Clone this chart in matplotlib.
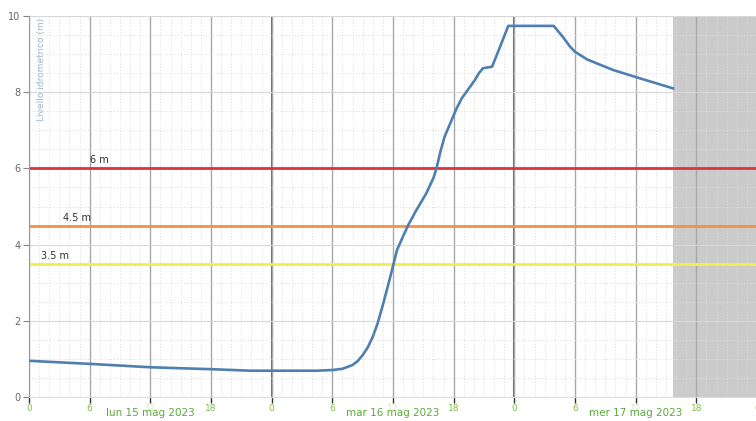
import numpy as np
import matplotlib.pyplot as pl
from matplotlib.ticker import MultipleLocator

# hours since lun 15 mag 2023 00:00 and water level (m)
hours = [0, 6, 12, 18, 21.9, 23.8, 28.5, 30.1, 31.0, 32.0, 32.5, 33.0, 33.5, 34.0, 34.5,
         35.0, 35.5, 35.9, 36.4, 37.0, 37.5, 38.3, 39.3, 40.0, 40.3, 40.7, 41.1, 41.8,
         42.3, 42.8, 43.4, 44.1, 44.5, 44.9, 45.8, 46.6, 47.4, 51.9,
         52.8, 53.5, 54.0, 55.2, 56.5, 57.8, 60.1, 63.7]
level = [0.95, 0.87, 0.78, 0.73, 0.69, 0.69, 0.69, 0.71, 0.74, 0.84, 0.94, 1.10, 1.30, 1.58, 1.95,
         2.42, 2.92, 3.33, 3.86, 4.22, 4.51, 4.90, 5.35, 5.75, 6.00, 6.45, 6.83, 7.27,
         7.58, 7.84, 8.06, 8.32, 8.50, 8.63, 8.67, 9.20, 9.74, 9.74,
         9.45, 9.20, 9.06, 8.86, 8.72, 8.58, 8.39, 8.10]

# alert thresholds
thresholds = [6, 4.5, 3.5]
threshold_labels = ['6 m', '4.5 m', '3.5 m']
threshold_colors = ['#e0313f', '#f5913f', '#f2ef4a']
label_hours = [7.0, 4.7, 2.6]

# forecast / no-data zone
shade_start = 63.7
shade_end = 72

days = ['lun 15 mag 2023', 'mar 16 mag 2023', 'mer 17 mag 2023']
tick_hours = np.arange(0, 73, 6)
tick_labels = [str(h % 24) for h in tick_hours]

f = pl.figure(figsize=(7.56, 4.21), dpi=100)
ax = f.add_axes([29/756, 1-397/421, 728/756, 381/421])

ax.axvspan(shade_start, shade_end, color='#cbcbcb', zorder=0.2, lw=0)

# grid
ax.set_xlim(0, 72)
ax.set_ylim(0, 10)
ax.xaxis.set_major_locator(MultipleLocator(6))
ax.xaxis.set_minor_locator(MultipleLocator(1))
ax.yaxis.set_major_locator(MultipleLocator(2))
ax.yaxis.set_minor_locator(MultipleLocator(0.5))
ax.grid(which='major', axis='x', color='#a8a8a8', lw=1.0)
ax.grid(which='major', axis='y', color='#d8d8d8', lw=0.8)
ax.grid(which='minor', color='#dcdcdc', lw=0.7, ls=(0, (1, 2)))
for d in [24, 48]:
    ax.axvline(d, color='#6a6a6a', lw=1.5, zorder=0.6)

for t, lab, c, lh in zip(thresholds, threshold_labels, threshold_colors, label_hours):
    ax.axhline(t, color=c, lw=2, zorder=2)
    ax.text(lh, t + 0.08, lab, fontsize=7, color='#333333', ha='center', va='bottom', zorder=3)

ax.plot(hours, level, '-', color='#4f7fb0', lw=1.9, zorder=4)

ax.set_xticks(tick_hours)
ax.set_xticklabels(tick_labels)
ax.tick_params(axis='x', which='major', colors='#333333', labelcolor='#7cbf4a', labelsize=6.5,
               length=4, width=1, pad=1)
ax.tick_params(axis='x', which='minor', length=0)
ax.tick_params(axis='y', which='major', colors='#888888', labelcolor='#666666', labelsize=7,
               length=4, pad=2)
ax.tick_params(axis='y', which='minor', length=0)
# the "12" labels sit faintly behind the date labels
for lbl, h in zip(ax.get_xticklabels(), tick_hours):
    if h % 24 == 12:
        lbl.set_alpha(0.35)

for i, d in enumerate(days):
    ax.text(24*i + 12, -0.3, d, fontsize=7.5, color='#5aab3a', ha='center', va='top', zorder=6)

ax.text(0.8, 9.95, 'Livello idrometrico (m)', rotation=90, fontsize=6.5, color='#9fb6cf',
        ha='left', va='top', zorder=5)

for s in ['top', 'right']:
    ax.spines[s].set_visible(False)
ax.spines['left'].set_color('#999999')
ax.spines['bottom'].set_color('#dddddd')

pl.savefig('out.png', dpi=100)
